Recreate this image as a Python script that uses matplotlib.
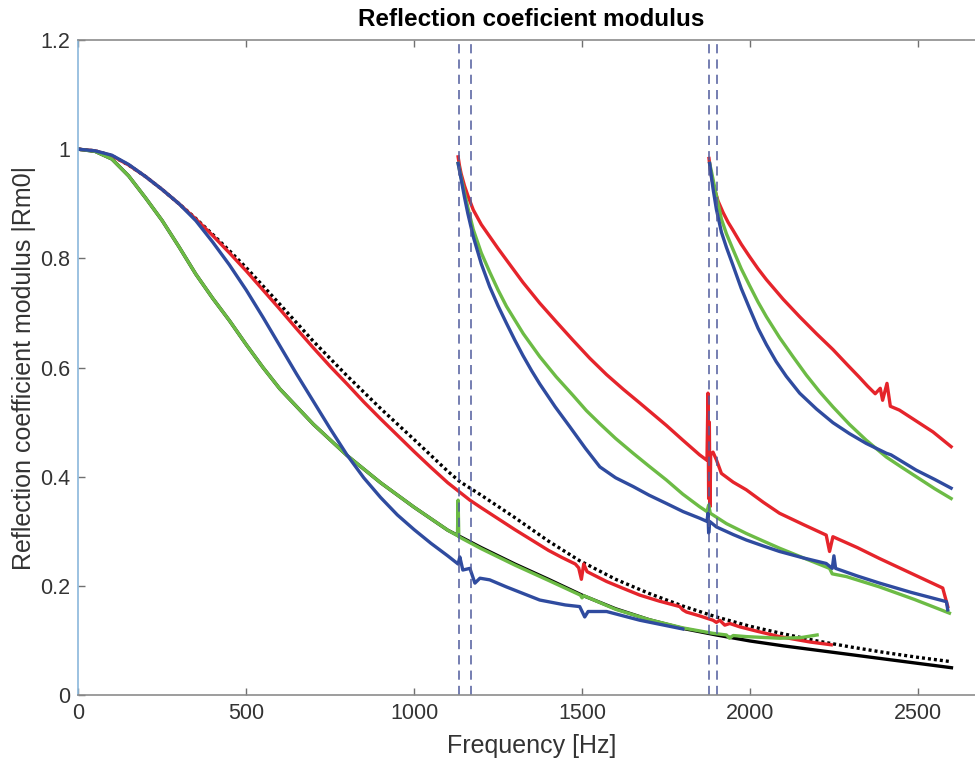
import numpy as np
import matplotlib.pyplot as plt

plt.rcParams["font.family"] = ["Liberation Sans", "DejaVu Sans"]

# analytic references (black solid / black dotted)
f_black = [0, 50, 100, 150, 200, 250, 300, 350, 400, 450, 500, 550, 600, 700, 800,
           900, 1000, 1100, 1200, 1300, 1400, 1500, 1600, 1700, 1800, 1900, 2000,
           2100, 2200, 2300, 2400, 2500, 2600]
r_black = [1.0, 0.996, 0.982, 0.951, 0.911, 0.869, 0.821, 0.771, 0.727, 0.686, 0.642,
           0.600, 0.561, 0.496, 0.439, 0.389, 0.344, 0.302, 0.270, 0.240, 0.212, 0.183,
           0.158, 0.138, 0.122, 0.110, 0.099, 0.090, 0.082, 0.074, 0.066, 0.058, 0.050]

f_dot = [0, 50, 100, 150, 200, 250, 300, 350, 400, 450, 500, 600, 700, 800, 900, 1000,
         1100, 1136, 1200, 1300, 1400, 1493, 1600, 1700, 1800, 1900, 2000, 2100, 2200,
         2300, 2400, 2500, 2600]
r_dot = [1.0, 0.997, 0.988, 0.971, 0.950, 0.926, 0.900, 0.873, 0.844, 0.814, 0.783,
         0.716, 0.648, 0.585, 0.525, 0.468, 0.410, 0.391, 0.366, 0.325, 0.282, 0.246,
         0.212, 0.186, 0.163, 0.143, 0.126, 0.112, 0.099, 0.088, 0.078, 0.069, 0.061]

# measured branches, red
f_red1 = [0, 50, 100, 150, 200, 250, 300, 350, 400, 450, 500, 550, 600, 650, 700, 750,
          800, 850, 900, 950, 1000, 1050, 1100, 1131, 1166, 1200, 1250, 1300, 1350,
          1400, 1440, 1480, 1490, 1498, 1505, 1515, 1573, 1620, 1672, 1730, 1791, 1800,
          1811, 1850, 1890, 1900, 1910, 1925, 1940, 1969, 2020, 2088, 2180, 2242]
r_red1 = [1.0, 0.997, 0.988, 0.971, 0.950, 0.926, 0.900, 0.872, 0.842, 0.810, 0.777,
          0.742, 0.707, 0.671, 0.636, 0.602, 0.570, 0.537, 0.506, 0.476, 0.446, 0.417,
          0.389, 0.374, 0.357, 0.343, 0.323, 0.303, 0.284, 0.265, 0.252, 0.240, 0.233,
          0.212, 0.240, 0.226, 0.208, 0.196, 0.183, 0.172, 0.162, 0.156, 0.152, 0.145,
          0.137, 0.133, 0.137, 0.128, 0.131, 0.125, 0.117, 0.107, 0.097, 0.092]
f_red2 = [1131, 1135, 1140, 1150, 1160, 1176, 1200, 1225, 1250, 1275, 1324, 1374, 1423,
          1473, 1523, 1573, 1623, 1672, 1751, 1800, 1850, 1872, 1875, 1877, 1879, 1881,
          1883, 1890, 1900, 1915, 1950, 1989, 2040, 2088, 2160, 2227, 2237, 2247, 2320,
          2386, 2480, 2574, 2589]
r_red2 = [0.986, 0.970, 0.955, 0.933, 0.915, 0.889, 0.862, 0.840, 0.818, 0.797, 0.756,
          0.718, 0.684, 0.650, 0.617, 0.587, 0.560, 0.535, 0.494, 0.467, 0.440, 0.430,
          0.553, 0.360, 0.500, 0.345, 0.440, 0.445, 0.431, 0.406, 0.390, 0.376, 0.353,
          0.333, 0.312, 0.293, 0.263, 0.290, 0.270, 0.250, 0.223, 0.196, 0.162]
f_red3 = [1878, 1882, 1888, 1895, 1905, 1920, 1935, 1949, 1974, 1999, 2024, 2049, 2099,
          2148, 2198, 2247, 2290, 2326, 2350, 2373, 2388, 2395, 2408, 2418, 2445, 2495,
          2545, 2599]
r_red3 = [0.983, 0.962, 0.942, 0.926, 0.905, 0.884, 0.866, 0.852, 0.826, 0.803, 0.781,
          0.761, 0.725, 0.693, 0.662, 0.633, 0.605, 0.582, 0.566, 0.552, 0.562, 0.540,
          0.571, 0.529, 0.522, 0.502, 0.482, 0.455]

# green
f_grn1 = [0, 50, 100, 150, 200, 250, 300, 350, 400, 450, 500, 550, 600, 700, 800, 900,
          1000, 1100, 1129, 1131, 1133, 1200, 1300, 1400, 1495, 1500, 1505, 1600, 1700,
          1800, 1890, 1930, 1939, 1950, 1989, 2088, 2150, 2200]
r_grn1 = [1.0, 0.996, 0.982, 0.951, 0.911, 0.869, 0.821, 0.771, 0.727, 0.686, 0.642,
          0.600, 0.561, 0.496, 0.439, 0.389, 0.344, 0.302, 0.292, 0.357, 0.290, 0.268,
          0.238, 0.210, 0.183, 0.178, 0.182, 0.157, 0.138, 0.123, 0.113, 0.110, 0.104,
          0.109, 0.107, 0.104, 0.105, 0.110]
f_grn2 = [1131, 1140, 1150, 1160, 1176, 1200, 1225, 1250, 1275, 1325, 1374, 1423, 1473,
          1513, 1553, 1600, 1652, 1700, 1751, 1800, 1850, 1872, 1877, 1882, 1930, 1989,
          2040, 2088, 2160, 2237, 2245, 2287, 2386, 2490, 2594]
r_grn2 = [0.974, 0.948, 0.920, 0.893, 0.853, 0.810, 0.775, 0.742, 0.712, 0.662, 0.620,
          0.583, 0.549, 0.521, 0.497, 0.470, 0.443, 0.419, 0.394, 0.368, 0.345, 0.336,
          0.348, 0.333, 0.314, 0.296, 0.282, 0.269, 0.251, 0.232, 0.222, 0.217, 0.198,
          0.175, 0.150]
f_grn3 = [1880, 1885, 1890, 1900, 1915, 1930, 1949, 1974, 1999, 2024, 2049, 2088, 2128,
          2168, 2207, 2247, 2296, 2346, 2406, 2450, 2495, 2550, 2599]
r_grn3 = [0.974, 0.960, 0.945, 0.915, 0.872, 0.845, 0.817, 0.781, 0.750, 0.720, 0.693,
          0.655, 0.620, 0.586, 0.556, 0.528, 0.496, 0.467, 0.436, 0.418, 0.400, 0.378,
          0.360]

# blue
f_blu1 = [0, 50, 100, 150, 200, 250, 300, 350, 400, 450, 500, 550, 600, 650, 700, 750,
          800, 850, 900, 950, 1000, 1050, 1100, 1131, 1136, 1145, 1166, 1181, 1196,
          1225, 1275, 1374, 1450, 1493, 1508, 1518, 1573, 1672, 1800]
r_blu1 = [1.0, 0.997, 0.989, 0.972, 0.950, 0.926, 0.900, 0.869, 0.830, 0.788, 0.742,
          0.692, 0.640, 0.588, 0.538, 0.488, 0.440, 0.398, 0.362, 0.330, 0.303, 0.278,
          0.255, 0.240, 0.253, 0.229, 0.232, 0.205, 0.214, 0.211, 0.198, 0.174, 0.165,
          0.162, 0.143, 0.153, 0.153, 0.137, 0.121]
f_blu2 = [1131, 1140, 1150, 1160, 1176, 1200, 1225, 1250, 1275, 1300, 1324, 1350, 1374,
          1420, 1463, 1510, 1553, 1600, 1652, 1700, 1751, 1801, 1850, 1872, 1875, 1877,
          1880, 1900, 1950, 1989, 2040, 2088, 2160, 2227, 2245, 2250, 2255, 2320, 2386,
          2480, 2585, 2589]
r_blu2 = [0.974, 0.945, 0.912, 0.882, 0.840, 0.790, 0.748, 0.713, 0.681, 0.650, 0.622,
          0.594, 0.570, 0.528, 0.492, 0.452, 0.418, 0.398, 0.382, 0.366, 0.351, 0.336,
          0.324, 0.318, 0.333, 0.297, 0.318, 0.308, 0.294, 0.284, 0.273, 0.263, 0.251,
          0.241, 0.232, 0.255, 0.232, 0.218, 0.205, 0.188, 0.171, 0.156]
f_blu3 = [1880, 1885, 1890, 1900, 1915, 1930, 1949, 1974, 1999, 2024, 2049, 2078, 2108,
          2148, 2198, 2247, 2296, 2346, 2406, 2420, 2495, 2550, 2599]
r_blu3 = [0.974, 0.950, 0.928, 0.890, 0.848, 0.820, 0.788, 0.745, 0.708, 0.672, 0.642,
          0.611, 0.584, 0.553, 0.524, 0.499, 0.479, 0.461, 0.443, 0.440, 0.412, 0.395,
          0.379]

# cut-on frequencies (dashed markers)
f_cuton = [1133, 1169, 1877, 1901]

red = "#e5242b"
green = "#6cbb45"
blue = "#2f4b9f"
lw = 2.4

fig = plt.figure(figsize=(9.75, 7.64), dpi=100)
ax = fig.add_axes([0.0803, 0.0903, 0.930, 0.8573])

ax.plot(f_black, r_black, c="k", lw=lw)
ax.plot(f_dot, r_dot, c="k", lw=2.4, ls=(0, (0.9, 0.9)))
for f, r in [(f_red1, r_red1), (f_red2, r_red2), (f_red3, r_red3)]:
    ax.plot(f, r, c=red, lw=lw)
for f, r in [(f_grn1, r_grn1), (f_grn2, r_grn2), (f_grn3, r_grn3)]:
    ax.plot(f, r, c=green, lw=lw)
for f, r in [(f_blu1, r_blu1), (f_blu2, r_blu2), (f_blu3, r_blu3)]:
    ax.plot(f, r, c=blue, lw=lw)
for fc in f_cuton:
    ax.axvline(fc, c="#4f5b9c", lw=1.1, ls=(0, (6, 4)))

ax.set_xlim(0, 2700)
ax.set_ylim(0, 1.2)
ax.set_xticks([0, 500, 1000, 1500, 2000, 2500])
ax.set_yticks([0, 0.2, 0.4, 0.6, 0.8, 1.0, 1.2])
ax.set_yticklabels(["0", "0.2", "0.4", "0.6", "0.8", "1", "1.2"])
ax.tick_params(direction="in", length=5, width=1, color="#707070",
               labelsize=15.5, labelcolor="#333333", pad=6, top=True, right=True)

for side in ["top", "bottom", "right"]:
    ax.spines[side].set_color("#8c8c8c")
    ax.spines[side].set_linewidth(1.2)
ax.spines["left"].set_color("#8bb8dc")
ax.spines["left"].set_linewidth(1.2)

ax.set_xlabel("Frequency [Hz]", fontsize=18, color="#333333", labelpad=7)
ax.set_ylabel("Reflection coefficient modulus |Rm0|", fontsize=18, color="#333333",
              labelpad=3)
ax.set_title("Reflection coeficient modulus", fontsize=17.5, fontweight="bold",
             pad=10)

fig.savefig("out.png", dpi=100)
